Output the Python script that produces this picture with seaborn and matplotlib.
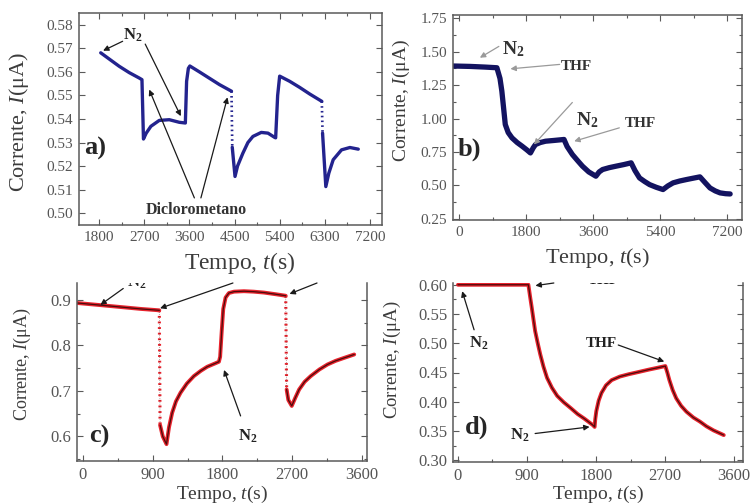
import numpy as np
import pandas as pd
import matplotlib
matplotlib.use("Agg")
import matplotlib.pyplot as plt
from matplotlib.ticker import AutoMinorLocator, MultipleLocator, FormatStrFormatter
import seaborn as sns

# ---------------- data ----------------
# (a) dichloromethane / N2 cycles
t_a = [1833, 2000, 2200, 2400, 2600, 2655, 2685, 2740, 2833, 3000, 3200, 3400, 3520,
       3545, 3580, 3610, 3800, 4000, 4200, 4440, 4455, 4510, 4560, 4667, 4767, 4867,
       5033, 5167, 5300, 5320, 5360, 5400, 5600, 5800, 6000, 6240, 6255, 6320, 6380,
       6467, 6633, 6800, 6967]
i_a = [0.5681, 0.5655, 0.5624, 0.5597, 0.5574, 0.5567, 0.5315, 0.5340, 0.5369, 0.5394,
       0.5397, 0.5386, 0.5383, 0.5560, 0.5615, 0.5625, 0.5600, 0.5573, 0.5546, 0.5518,
       0.5280, 0.5156, 0.5200, 0.5255, 0.5300, 0.5326, 0.5343, 0.5340, 0.5322, 0.5320,
       0.5500, 0.5582, 0.5560, 0.5534, 0.5506, 0.5475, 0.5340, 0.5113, 0.5170, 0.5227,
       0.5269, 0.5279, 0.5272]
fast_a = [19, 35]          # index of the point before a fast (dotted) step

# (b) THF / N2 cycles
t_b = [-150, 300, 700, 1017, 1100, 1150, 1200, 1242, 1320, 1422, 1560, 1692, 1820, 1917,
       1990, 2052, 2180, 2322, 2560, 2817, 2900, 3042, 3180, 3312, 3480, 3672, 3760, 3852,
       4030, 4212, 4420, 4617, 4720, 4842, 4980, 5112, 5290, 5472, 5600, 5742, 5920, 6102,
       6280, 6462, 6600, 6732, 6870, 7002, 7150, 7272]
i_b = [1.393, 1.390, 1.385, 1.380, 1.300, 1.205, 1.070, 0.955, 0.895, 0.855, 0.820, 0.793,
       0.765, 0.742, 0.780, 0.805, 0.820, 0.830, 0.836, 0.843, 0.790, 0.730, 0.685, 0.643,
       0.600, 0.568, 0.600, 0.618, 0.632, 0.643, 0.655, 0.668, 0.610, 0.555, 0.528, 0.505,
       0.485, 0.468, 0.495, 0.518, 0.532, 0.543, 0.553, 0.563, 0.520, 0.480, 0.458, 0.443,
       0.437, 0.435]
fast_b = []

# (c) THF / N2, single cycle
t_c = [-70, 250, 500, 750, 985, 995, 1030, 1078, 1110, 1151, 1200, 1259, 1340, 1431, 1520,
       1603, 1700, 1754, 1770, 1790, 1810, 1840, 1883, 1950, 2077, 2200, 2336, 2500, 2616,
       2628, 2650, 2694, 2740, 2789, 2860, 2939, 3050, 3155, 3260, 3370, 3500]
i_c = [0.893, 0.888, 0.884, 0.880, 0.877, 0.625, 0.600, 0.583, 0.620, 0.652, 0.677, 0.696,
       0.716, 0.7325, 0.744, 0.753, 0.760, 0.764, 0.775, 0.830, 0.880, 0.905, 0.915, 0.918,
       0.919, 0.918, 0.916, 0.912, 0.909, 0.703, 0.680, 0.667, 0.685, 0.703, 0.720, 0.7325,
       0.747, 0.758, 0.766, 0.7725, 0.780]
fast_c = [4, 28]

# (d) THF / N2, single cycle
t_d = [0, 400, 918, 940, 962, 985, 1006, 1040, 1073, 1115, 1161, 1225, 1294, 1380, 1472,
       1560, 1649, 1760, 1782, 1790, 1804, 1835, 1871, 1930, 2004, 2110, 2225, 2360, 2491,
       2600, 2704, 2730, 2757, 2800, 2846, 2910, 2979, 3070, 3156, 3240, 3333, 3466]
i_d = [0.600, 0.600, 0.600, 0.580, 0.561, 0.540, 0.521, 0.500, 0.481, 0.460, 0.441, 0.424,
       0.410, 0.399, 0.389, 0.379, 0.371, 0.360, 0.357, 0.370, 0.384, 0.402, 0.415, 0.428,
       0.437, 0.443, 0.447, 0.451, 0.455, 0.458, 0.461, 0.450, 0.437, 0.420, 0.406, 0.393,
       0.383, 0.373, 0.366, 0.358, 0.351, 0.343]
fast_d = []

# ---------------- style ----------------
sns.set_style("ticks")
plt.rcParams["font.family"] = ["Liberation Serif", "DejaVu Serif"]
plt.rcParams["mathtext.fontset"] = "custom"
plt.rcParams["mathtext.rm"] = "Liberation Serif"
plt.rcParams["mathtext.it"] = "Liberation Serif:italic"
plt.rcParams["mathtext.bf"] = "Liberation Serif:bold"

SPINE = "#5a5a5a"
LABEL = "#3c3c3c"
TICKC = "#555555"


def split_curve(t, i, fast):
    """Solid pieces between fast steps, plus the fast steps themselves."""
    solid, steps = [], []
    part = 0
    for k in range(len(t)):
        solid.append((t[k], i[k], part))
        if k in fast:
            steps.append((t[k], i[k], k))
            steps.append((t[k + 1], i[k + 1], k))
            part += 1
    s = pd.DataFrame(solid, columns=["t", "I", "part"])
    f = pd.DataFrame(steps, columns=["t", "I", "part"])
    return s, f


def draw_curve(ax, t, i, fast, color, lw, core=None, core_lw=None):
    s, f = split_curve(t, i, fast)
    kw = dict(x="t", y="I", units="part", estimator=None, sort=False, legend=False, ax=ax)
    sns.lineplot(data=s, color=color, lw=lw, solid_capstyle="round", **kw)
    if len(f):
        sns.lineplot(data=f, color=color, lw=lw * 0.8, linestyle=(0, (0.6, 1.2)), **kw)
    if core is not None:
        sns.lineplot(data=s, color=core, lw=core_lw, solid_capstyle="round", **kw)
        if len(f):
            sns.lineplot(data=f, color=core, lw=core_lw * 0.6, linestyle=(0, (0.6, 2.0)), **kw)


def style_axes(ax, xlim, ylim, xmaj, ymaj, yfmt, ylab_pos, xlab_pos, ylab_fs, xlab_fs,
               tick_fs, top=True, yminor=True):
    ax.set_xlim(*xlim)
    ax.set_ylim(*ylim)
    ax.xaxis.set_major_locator(MultipleLocator(xmaj))
    ax.xaxis.set_minor_locator(AutoMinorLocator(2))
    ax.yaxis.set_major_locator(MultipleLocator(ymaj))
    if yminor:
        ax.yaxis.set_minor_locator(AutoMinorLocator(2))
    ax.yaxis.set_major_formatter(FormatStrFormatter(yfmt))
    ax.tick_params(which="both", direction="in", top=top, right=True, color=SPINE,
                   width=0.8, labelsize=tick_fs, labelcolor=TICKC)
    ax.tick_params(which="major", length=4.5, pad=4)
    ax.tick_params(which="minor", length=2.5)
    for name, sp in ax.spines.items():
        sp.set_color(SPINE)
        sp.set_linewidth(1.1)
    if not top:
        ax.spines["top"].set_visible(False)
    ax.set_xlabel("Tempo, $t$(s)", fontsize=xlab_fs, color=LABEL)
    ax.set_ylabel("Corrente, $I$(\u03bcA)", fontsize=ylab_fs, color=LABEL)
    ax.yaxis.set_label_coords(*ylab_pos)
    ax.xaxis.set_label_coords(*xlab_pos)


def arrow(ax, tail, head, color="#1a1a1a", lw=0.9):
    ax.annotate("", xy=head, xytext=tail,
                arrowprops=dict(arrowstyle="-|>", color=color, lw=lw, mutation_scale=8,
                                shrinkA=0, shrinkB=0),
                annotation_clip=False)


fig = plt.figure(figsize=(7.51, 5.04), dpi=100)
W, H = 751, 504


def add_axes(l, r, t, b):
    return fig.add_axes([l / W, 1 - b / H, (r - l) / W, (b - t) / H])


ax_a = add_axes(79, 382, 13, 225)
ax_b = add_axes(453, 742, 15, 220)
ax_c = add_axes(77, 367, 283, 461)
ax_d = add_axes(453, 743, 283, 462)

BLUE_A = "#23238e"
BLUE_B = "#131360"
RED = "#e8232d"
CORE = "#4a0c0c"

# ---- (a)
draw_curve(ax_a, t_a, i_a, fast_a, BLUE_A, 2.4)
style_axes(ax_a, (1400, 7440), (0.495, 0.585), 900, 0.01, "%.2f",
           (-0.158, 0.486), (0.53, -0.12), 16, 17, 11, yminor=False)
ax_a.text(0.016, 0.363, "a)", transform=ax_a.transAxes, fontsize=19, fontweight="bold",
          ha="left", va="center")
ax_a.text(2480, 0.5755, "N$_{\\mathbf{2}}$", fontsize=12, fontweight="bold", color="#222222",
          ha="center", va="center")
arrow(ax_a, (2270, 0.5730), (1880, 0.5690))
arrow(ax_a, (2720, 0.5718), (3430, 0.5412))
ax_a.text(3730, 0.5014, "Diclorometano", fontsize=11.5, fontweight="bold", color="#333333",
          ha="center", va="center")
arrow(ax_a, (3700, 0.5065), (2800, 0.5525))
arrow(ax_a, (3830, 0.5065), (4360, 0.5492))

# ---- (b)
draw_curve(ax_b, t_b, i_b, fast_b, BLUE_B, 3.8)
style_axes(ax_b, (-160, 7590), (0.24, 1.775), 1800, 0.25, "%.2f",
           (-0.142, 0.585), (0.5, -0.125), 14, 16, 11)
ax_b.text(0.017, 0.346, "b)", transform=ax_b.transAxes, fontsize=19, fontweight="bold",
          ha="left", va="center")
GREY = "#9a9a9a"
ax_b.text(1450, 1.52, "N$_{\\mathbf{2}}$", fontsize=14, fontweight="bold", color="#333333",
          ha="center", va="center")
arrow(ax_b, (1070, 1.54), (560, 1.455), color=GREY)
ax_b.text(3150, 1.39, "THF", fontsize=11, fontweight="bold", color="#333333",
          ha="center", va="center")
arrow(ax_b, (2700, 1.405), (1380, 1.372), color=GREY)
ax_b.text(3450, 0.99, "N$_{\\mathbf{2}}$", fontsize=14, fontweight="bold", color="#333333",
          ha="center", va="center")
arrow(ax_b, (3040, 1.12), (2010, 0.805), color=GREY)
ax_b.text(4850, 0.965, "THF", fontsize=11, fontweight="bold", color="#333333",
          ha="center", va="center")
arrow(ax_b, (4300, 0.93), (3090, 0.83), color=GREY)

# ---- (c)
draw_curve(ax_c, t_c, i_c, fast_c, RED, 2.8, CORE, 0.9)
style_axes(ax_c, (-77, 3665), (0.546, 0.937), 900, 0.1, "%.1f",
           (-0.152, 0.545), (0.5, -0.128), 13, 14, 12, top=False)
ax_c.text(0.041, 0.14, "c)", transform=ax_c.transAxes, fontsize=19, fontweight="bold",
          ha="left", va="center")
ax_c.text(700, 0.938, "N$_{\\mathbf{2}}$", fontsize=12, fontweight="bold", color="#222222",
          ha="center", va="center", clip_on=True)
arrow(ax_c, (520, 0.925), (225, 0.889))
arrow(ax_c, (1935, 0.937), (995, 0.8815))
arrow(ax_c, (3020, 0.937), (2665, 0.913))
ax_c.text(2120, 0.601, "N$_{\\mathbf{2}}$", fontsize=12, fontweight="bold", color="#222222",
          ha="center", va="center")
arrow(ax_c, (2034, 0.645), (1820, 0.746))

# ---- (d)
draw_curve(ax_d, t_d, i_d, fast_d, RED, 2.8, CORE, 0.9)
style_axes(ax_d, (-65, 3717), (0.297, 0.603), 900, 0.05, "%.2f",
           (-0.172, 0.57), (0.5, -0.12), 13.5, 14, 12, top=False)
ax_d.text(0.041, 0.196, "d)", transform=ax_d.transAxes, fontsize=19, fontweight="bold",
          ha="left", va="center")
ax_d.text(275, 0.500, "N$_{\\mathbf{2}}$", fontsize=12, fontweight="bold", color="#222222",
          ha="center", va="center")
arrow(ax_d, (210, 0.523), (55, 0.589))
arrow(ax_d, (1250, 0.603), (1010, 0.5985))
ax_d.text(1900, 0.608, "THF", fontsize=11, fontweight="bold", color="#222222",
          ha="center", va="center", clip_on=True)
ax_d.text(1871, 0.500, "THF", fontsize=11, fontweight="bold", color="#222222",
          ha="center", va="center")
arrow(ax_d, (2090, 0.497), (2690, 0.4686))
ax_d.text(807, 0.343, "N$_{\\mathbf{2}}$", fontsize=12, fontweight="bold", color="#222222",
          ha="center", va="center")
arrow(ax_d, (1006, 0.3457), (1716, 0.3570))

fig.savefig("out.png", dpi=100)
